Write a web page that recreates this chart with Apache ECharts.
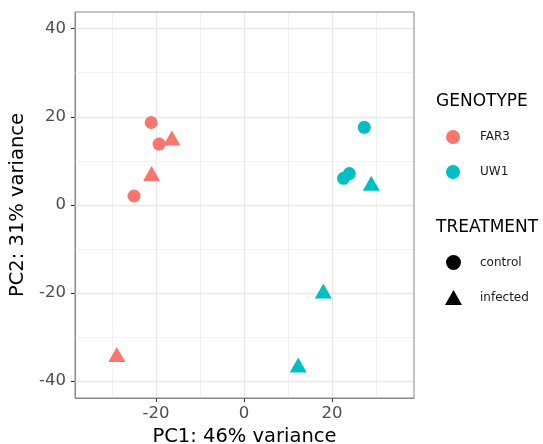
<!DOCTYPE html>
<html>
	<head>
		<meta charset="UTF-8">
		<title>PCA</title>
		<script src="https://cdn.jsdelivr.net/npm/echarts@6/dist/echarts.min.js"></script>
		<style type="text/css">
			body{ margin: 0; background: #fff; }
			#chart{ width: 543px; height: 444px; }
		</style>
	</head>
	<body>
		<div id="chart"></div>
		<script>
		// samples
		var pc1 = [-21.1, -19.3, -25.0, -16.4, -21.0, -28.9, 27.3, 23.9, 22.6, 28.9, 18.0, 12.3];
		var pc2 = [18.7, 13.8, 2.0, 15.2, 7.1, -34.0, 17.6, 7.1, 6.0, 4.9, -19.6, -36.4];
		var genotype = ['FAR3','FAR3','FAR3','FAR3','FAR3','FAR3','UW1','UW1','UW1','UW1','UW1','UW1'];
		var treatment = ['control','control','control','infected','infected','infected','control','control','control','infected','infected','infected'];

		var genotypes = ['FAR3', 'UW1'];
		var treatments = ['control', 'infected'];
		var genoColors = ['#F8766D', '#00BFC4'];
		var shapes = ['circle', 'triangle'];
		var shapeSizes = [13, [17, 15]];

		var xTicks = [-20, 0, 20];
		var yTicks = [-40, -20, 0, 20, 40];
		var xMinorGrid = [-30, -10, 10, 30];
		var yMinorGrid = [-30, -10, 10, 30];

		var font = 'DejaVu Sans';
		var series = [];
		for (var g = 0; g < genotypes.length; g++) {
			for (var t = 0; t < treatments.length; t++) {
				var pts = [];
				for (var i = 0; i < pc1.length; i++) {
					if (genotype[i] == genotypes[g] && treatment[i] == treatments[t]) {
						pts.push([pc1[i], pc2[i]]);
					}
				}
				series.push({
					name: genotypes[g] + ' ' + treatments[t],
					type: 'scatter',
					symbol: shapes[t],
					symbolSize: shapeSizes[t],
					itemStyle: { color: genoColors[g], opacity: 1 },
					data: pts,
					z: 5
				});
			}
		}

		// grid lines (major + minor) through the axes' scales
		var gridLines = [];
		for (var i = 0; i < xMinorGrid.length; i++) gridLines.push({ xAxis: xMinorGrid[i], lineStyle: { color: '#F2F2F2', width: 1 } });
		for (var i = 0; i < yMinorGrid.length; i++) gridLines.push({ yAxis: yMinorGrid[i], lineStyle: { color: '#F2F2F2', width: 1 } });
		for (var i = 0; i < xTicks.length; i++) gridLines.push({ xAxis: xTicks[i] });
		for (var i = 0; i < yTicks.length; i++) gridLines.push({ yAxis: yTicks[i] });
		series.push({
			type: 'scatter',
			data: [],
			silent: true,
			z: 1,
			markLine: {
				silent: true,
				symbol: 'none',
				label: { show: false },
				lineStyle: { color: '#E8E8E8', width: 1.3, type: 'solid', opacity: 1 },
				emphasis: { disabled: true },
				data: gridLines,
				animation: false
			}
		});

		// legend-only series
		for (var g = 0; g < genotypes.length; g++) {
			series.push({ name: genotypes[g], type: 'scatter', symbol: 'circle', itemStyle: { color: genoColors[g], opacity: 1 }, data: [] });
		}
		for (var t = 0; t < treatments.length; t++) {
			series.push({ name: treatments[t], type: 'scatter', symbol: shapes[t], itemStyle: { color: '#000', opacity: 1 }, data: [] });
		}

		var myChart = echarts.init(document.getElementById('chart'));
		var option = {
			animation: false,
			textStyle: { fontFamily: font },
			grid: { left: 75, top: 12, width: 339, height: 386, outerBoundsMode: 'none', containLabel: false },
			xAxis: {
				type: 'value',
				min: -38.4,
				max: 38.6,
				name: 'PC1: 46% variance',
				nameLocation: 'middle',
				nameGap: 25,
				nameTextStyle: { fontSize: 19.5, color: '#000', fontFamily: font },
				axisLine: { show: true, onZero: false, lineStyle: { color: '#888' } },
				axisTick: { show: true, length: 4, lineStyle: { color: '#333', width: 1 }, customValues: xTicks },
				axisLabel: { fontSize: 16.5, color: '#4D4D4D', margin: 7, customValues: xTicks },
				splitLine: { show: false }
			},
			yAxis: {
				type: 'value',
				min: -43.9,
				max: 43.8,
				name: 'PC2: 31% variance',
				nameLocation: 'middle',
				nameGap: 39,
				nameTextStyle: { fontSize: 19.5, color: '#000', fontFamily: font },
				axisLine: { show: true, onZero: false, lineStyle: { color: '#888' } },
				axisTick: { show: true, length: 4, lineStyle: { color: '#333', width: 1 }, customValues: yTicks },
				axisLabel: { fontSize: 16.5, color: '#4D4D4D', margin: 9, customValues: yTicks },
				splitLine: { show: false }
			},
			graphic: [
				{ type: 'rect', shape: { x: 75, y: 12, width: 339, height: 386 }, style: { fill: 'none', stroke: '#888', lineWidth: 1 }, z: 10, silent: true },
				{ type: 'text', left: 436, top: 93, style: { text: 'GENOTYPE', fontSize: 17, fill: '#000', fontFamily: font } },
				{ type: 'text', left: 436, top: 219, style: { text: 'TREATMENT', fontSize: 17, fill: '#000', fontFamily: font } }
			],
			legend: [
				{
					data: genotypes,
					orient: 'vertical',
					left: 446,
					top: 130,
					padding: 0,
					itemWidth: 14,
					itemHeight: 14,
					itemGap: 21,
					textStyle: { fontSize: 12, color: '#1a1a1a', padding: [0, 0, 0, 15] },
					selectedMode: false
				},
				{
					data: treatments,
					orient: 'vertical',
					left: 445,
					top: 255,
					padding: 0,
					itemWidth: 17,
					itemHeight: 15,
					itemGap: 20,
					textStyle: { fontSize: 12, color: '#1a1a1a', padding: [0, 0, 0, 13] },
					selectedMode: false
				}
			],
			series: series
		};
		myChart.setOption(option);
		</script>
	</body>
</html>
